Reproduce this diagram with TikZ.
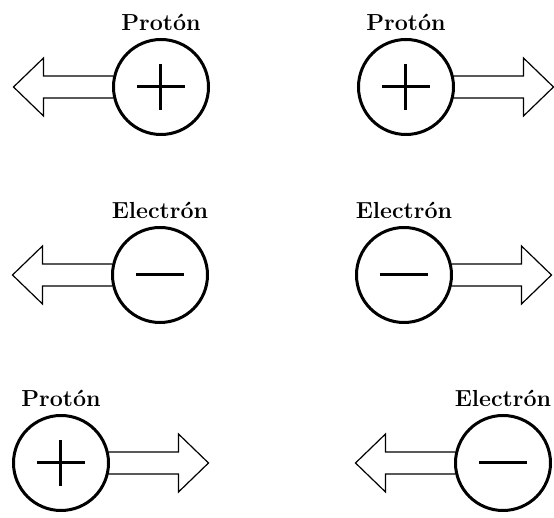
\documentclass[tikz,border=0pt]{standalone}
\usetikzlibrary{positioning}
\tikzset{
  particula/.style={circle, draw, line width=1.5pt, minimum size=47.5pt, inner sep=0pt, outer sep=0pt, fill=white},
  signo/.style={line width=1.5pt},
  flecha/.style={line width=0.6pt, line join=miter},
  nombre/.style={font=\bfseries\fontsize{11.6}{13}\selectfont},
}
\begin{document}
\begin{tikzpicture}[x=0.5pt, y=-0.5pt]
  \useasboundingbox (0,0) rectangle (554,518);
  % fila superior: dos protones
  \node[particula] (p1) at (161,87) {};
  \node[particula] (p2) at (406,87) {};
  % fila central: dos electrones
  \node[particula] (e1) at (160,275) {};
  \node[particula] (e2) at (404,275) {};
  % fila inferior: proton y electron
  \node[particula] (p3) at (61,463) {};
  \node[particula] (e3) at (503,463) {};
  % nombres
  \node[nombre, above=1pt of p1] (lp1) {Protón};
  \node[nombre, above=1pt of p2] (lp2) {Protón};
  \node[nombre, above=1pt of e1] (le1) {Electrón};
  \node[nombre, above=1pt of e2] (le2) {Electrón};
  \node[nombre, above=1pt of p3] (lp3) {Protón};
  \node[nombre, above=1pt of e3] (le3) {Electrón};
  % signos
  \draw[signo] (p1.center) +(-24,0) -- +(24,0) (p1.center) +(0,-23) -- +(0,23);
  \draw[signo] (p2.center) +(-24,0) -- +(24,0) (p2.center) +(0,-23) -- +(0,23);
  \draw[signo] (p3.center) +(-24,0) -- +(24,0) (p3.center) +(0,-23) -- +(0,23);
  \draw[signo] (e1.center) +(-24,0) -- +(24,0);
  \draw[signo] (e2.center) +(-24,0) -- +(24,0);
  \draw[signo] (e3.center) +(-24,0) -- +(24,0);
  % flechas
  \draw[flecha] (p1.west) ++(0,-11) -- ++(-70,0) -- ++(0,-18) -- ++(-30,29) -- ++(30,29) -- ++(0,-18) -- ++(70,0);
  \draw[flecha] (p2.east) ++(0,-11) -- ++(70,0) -- ++(0,-18) -- ++(30,29) -- ++(-30,29) -- ++(0,-18) -- ++(-70,0);
  \draw[flecha] (e1.west) ++(0,-11) -- ++(-70,0) -- ++(0,-18) -- ++(-30,29) -- ++(30,29) -- ++(0,-18) -- ++(70,0);
  \draw[flecha] (e2.east) ++(0,-11) -- ++(70,0) -- ++(0,-18) -- ++(30,29) -- ++(-30,29) -- ++(0,-18) -- ++(-70,0);
  \draw[flecha] (p3.east) ++(0,-11) -- ++(70,0) -- ++(0,-18) -- ++(30,29) -- ++(-30,29) -- ++(0,-18) -- ++(-70,0);
  \draw[flecha] (e3.west) ++(0,-11) -- ++(-70,0) -- ++(0,-18) -- ++(-30,29) -- ++(30,29) -- ++(0,-18) -- ++(70,0);
\end{tikzpicture}
\end{document}
